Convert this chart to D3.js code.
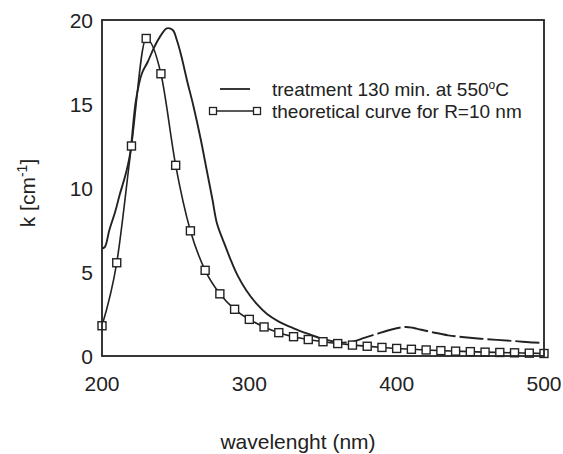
<!DOCTYPE html>
<html>
  <head>
    <meta charset="utf-8" />
    <title>k vs wavelength</title>
    <script src="https://d3js.org/d3.v7.min.js"></script>
    <style>
      body { margin: 0; background: #fff; }
      text { font-family: "Liberation Sans", Arial, sans-serif; fill: #222; }
    </style>
  </head>
  <body>
    <svg width="563" height="454"></svg>
    <script>
      // measured spectrum (treatment 130 min at 550 C)
      var measWl = [200, 202, 205, 209, 212, 216, 219, 223, 227, 231, 235, 239, 244, 248, 251, 254, 258, 262, 267, 271, 275, 278, 283, 287, 292, 298, 305, 312, 320, 330, 341, 350, 362, 370, 378, 386, 394, 400, 406, 411, 416, 425, 435, 446, 457, 468, 480, 493, 500];
      var measK = [6.4, 6.5, 7.5, 8.6, 9.6, 10.8, 12.0, 15.2, 16.8, 17.5, 18.3, 18.95, 19.5, 19.4, 18.75, 17.8, 16.3, 14.9, 12.9, 11.1, 9.3, 7.9, 6.7, 5.8, 4.8, 3.9, 3.1, 2.5, 2.05, 1.65, 1.28, 1.0, 0.8, 0.85, 1.08, 1.3, 1.52, 1.65, 1.73, 1.68, 1.58, 1.4, 1.23, 1.12, 1.03, 0.96, 0.89, 0.8, 0.78];
      var dashFrom = 350; // scanned tail looks broken up past here

      // theoretical curve for R = 10 nm
      var theoWl = [200, 210, 220, 230, 240, 250, 260, 270, 280, 290, 300, 310, 320, 330, 340, 350, 360, 370, 380, 390, 400, 410, 420, 430, 440, 450, 460, 470, 480, 490, 500];
      var theoK = [1.8, 5.55, 12.5, 18.9, 16.8, 11.35, 7.45, 5.1, 3.7, 2.78, 2.18, 1.73, 1.39, 1.15, 0.98, 0.85, 0.74, 0.65, 0.58, 0.51, 0.45, 0.4, 0.36, 0.32, 0.29, 0.26, 0.23, 0.21, 0.19, 0.17, 0.15];

      var xTicks = [200, 300, 400, 500];
      var yTicks = [0, 5, 10, 15, 20];

      var svg = d3.select("svg");
      var pL = 102, pR = 544, pT = 20, pB = 356;

      var x = d3.scaleLinear().domain([200, 500]).range([pL, pR]);
      var y = d3.scaleLinear().domain([0, 20]).range([pB, pT]);

      var line = d3.line()
        .x(function (d) { return x(d[0]); })
        .y(function (d) { return y(d[1]); });

      var meas = measWl.map(function (w, i) { return [w, measK[i]]; });
      var theo = theoWl.map(function (w, i) { return [w, theoK[i]]; });

      var measHead = meas.filter(function (d) { return d[0] <= dashFrom; });
      var measTail = meas.filter(function (d) { return d[0] >= dashFrom; });

      svg.append("path")
        .attr("d", line.curve(d3.curveCatmullRom)(measHead))
        .attr("fill", "none")
        .attr("stroke", "#222")
        .attr("stroke-width", 1.9);

      svg.append("path")
        .attr("d", line.curve(d3.curveCatmullRom)(measTail))
        .attr("fill", "none")
        .attr("stroke", "#222")
        .attr("stroke-width", 1.9)
        .attr("stroke-dasharray", "24,4");

      svg.append("path")
        .attr("d", line.curve(d3.curveMonotoneX)(theo))
        .attr("fill", "none")
        .attr("stroke", "#222")
        .attr("stroke-width", 1.6);

      svg.selectAll(".sq")
        .data(theo)
        .enter()
        .append("rect")
        .attr("class", "sq")
        .attr("x", function (d) { return x(d[0]) - 4; })
        .attr("y", function (d) { return y(d[1]) - 4; })
        .attr("width", 8)
        .attr("height", 8)
        .attr("fill", "#fff")
        .attr("stroke", "#222")
        .attr("stroke-width", 1.4);

      // frame
      svg.append("rect")
        .attr("x", pL)
        .attr("y", pT)
        .attr("width", pR - pL)
        .attr("height", pB - pT)
        .attr("fill", "none")
        .attr("stroke", "#222")
        .attr("stroke-width", 1.8);

      svg.selectAll(".xt")
        .data(xTicks)
        .enter()
        .append("text")
        .attr("x", function (d) { return x(d); })
        .attr("y", 391)
        .attr("text-anchor", "middle")
        .style("font-size", "21px")
        .text(function (d) { return d; });

      svg.selectAll(".yt")
        .data(yTicks)
        .enter()
        .append("text")
        .attr("x", 93)
        .attr("y", function (d) { return y(d) + 7.5; })
        .attr("text-anchor", "end")
        .style("font-size", "21px")
        .text(function (d) { return d; });

      svg.append("text")
        .attr("x", 298)
        .attr("y", 449)
        .attr("text-anchor", "middle")
        .style("font-size", "21px")
        .text("wavelenght (nm)");

      var yl = svg.append("text")
        .attr("transform", "translate(35,193) rotate(-90)")
        .attr("text-anchor", "middle")
        .style("font-size", "21px");
      yl.append("tspan").text("k [cm");
      yl.append("tspan").attr("dy", -8).style("font-size", "14px").text("-1");
      yl.append("tspan").attr("dy", 8).text("]");

      // legend
      svg.append("line")
        .attr("x1", 220).attr("x2", 250)
        .attr("y1", 89).attr("y2", 89)
        .attr("stroke", "#222").attr("stroke-width", 1.8);
      var t1 = svg.append("text")
        .attr("x", 272).attr("y", 96)
        .style("font-size", "19px");
      t1.append("tspan").text("treatment 130 min. at 550");
      t1.append("tspan").attr("dy", -7).style("font-size", "12px").text("o");
      t1.append("tspan").attr("dy", 7).text("C");

      svg.append("line")
        .attr("x1", 213).attr("x2", 257)
        .attr("y1", 111).attr("y2", 111)
        .attr("stroke", "#222").attr("stroke-width", 1.6);
      svg.selectAll(".lsq")
        .data([213, 257])
        .enter()
        .append("rect")
        .attr("x", function (d) { return d - 3.5; })
        .attr("y", 107.5)
        .attr("width", 7).attr("height", 7)
        .attr("fill", "#fff").attr("stroke", "#222").attr("stroke-width", 1.3);
      svg.append("text")
        .attr("x", 272).attr("y", 118)
        .style("font-size", "19px")
        .text("theoretical curve for R=10 nm");
    </script>
  </body>
</html>
